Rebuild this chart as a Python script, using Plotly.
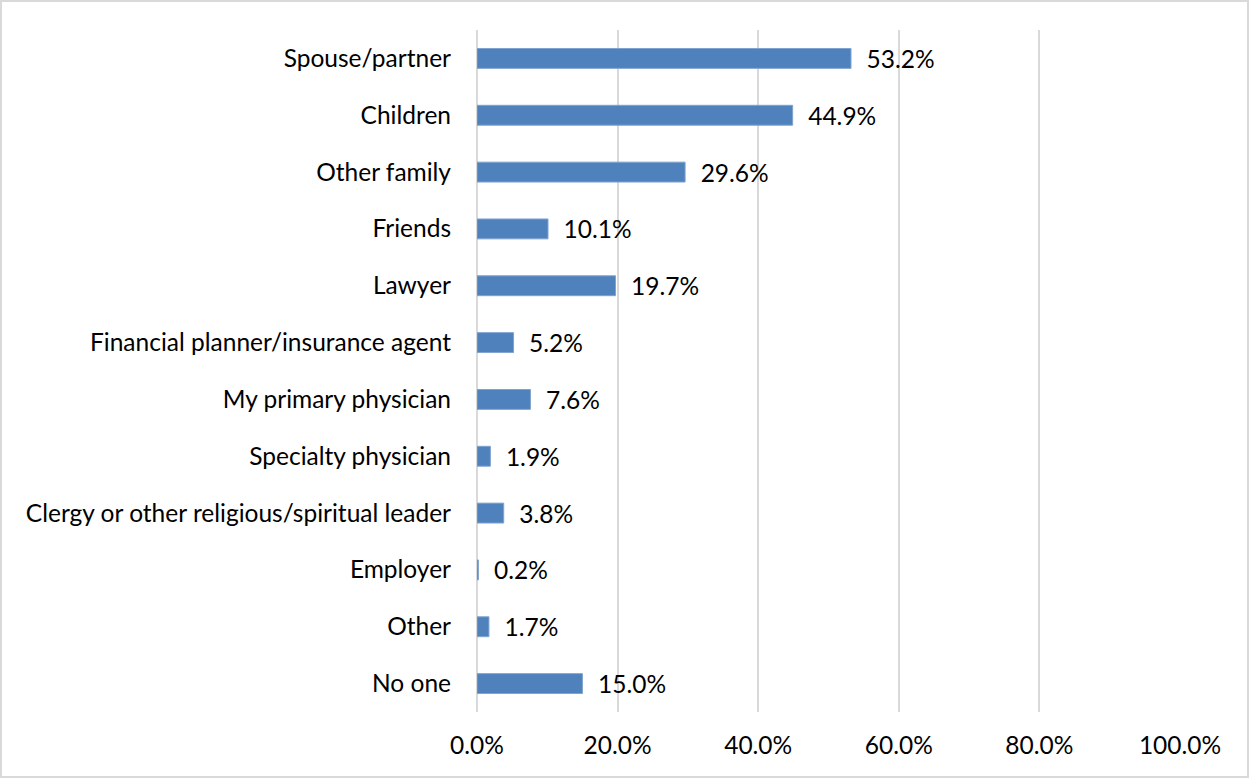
import plotly.graph_objects as go

categories = [
    "Spouse/partner",
    "Children",
    "Other family",
    "Friends",
    "Lawyer",
    "Financial planner/insurance agent",
    "My primary physician",
    "Specialty physician",
    "Clergy or other religious/spiritual leader",
    "Employer",
    "Other",
    "No one",
]
shares = [53.2, 44.9, 29.6, 10.1, 19.7, 5.2, 7.6, 1.9, 3.8, 0.2, 1.7, 15.0]
tick_values = [0, 20, 40, 60, 80, 100]
tick_labels = ["0.0%", "20.0%", "40.0%", "60.0%", "80.0%", "100.0%"]

W, H = 1249, 778
M = dict(l=477, r=69, t=30, b=66)
FONT = "Lato, Calibri, Carlito, sans-serif"
FS = 24.5

fig = go.Figure(
    go.Bar(
        x=shares,
        y=categories,
        orientation="h",
        marker=dict(color="#4F81BD", line=dict(color="#7FA3D0", width=1)),
        text=shares,
        texttemplate="  %{x:.1f}%",
        textposition="outside",
        textfont=dict(size=FS, color="#000000", family=FONT),
        cliponaxis=False,
        width=0.35,
    )
)

# outer border around the whole chart area, in paper units
pw = W - M["l"] - M["r"]
ph = H - M["t"] - M["b"]
fig.add_shape(
    type="rect",
    xref="paper",
    yref="paper",
    x0=(1 - M["l"]) / pw,
    x1=(W - M["l"] - 1) / pw,
    y0=-(M["b"] - 1) / ph,
    y1=(H - M["b"] - 1) / ph,
    line=dict(color="#D9D9D9", width=2),
    layer="below",
)

fig.update_layout(
    width=W,
    height=H,
    margin=M,
    paper_bgcolor="white",
    plot_bgcolor="white",
    showlegend=False,
    uniformtext=dict(minsize=FS, mode="show"),
    font=dict(family=FONT, size=FS, color="#000000"),
    xaxis=dict(
        range=[0, 100],
        tickvals=tick_values,
        ticktext=tick_labels,
        showgrid=True,
        gridcolor="#D9D9D9",
        gridwidth=2,
        zeroline=True,
        zerolinecolor="#D9D9D9",
        zerolinewidth=2,
        showline=False,
        ticks="",
        tickfont=dict(size=FS),
        ticklabelstandoff=16,
    ),
    yaxis=dict(
        categoryorder="array",
        categoryarray=categories[::-1],
        showgrid=False,
        showline=False,
        ticks="",
        tickfont=dict(size=FS),
        ticklabelstandoff=25,
    ),
)

fig.write_html("out.html")
